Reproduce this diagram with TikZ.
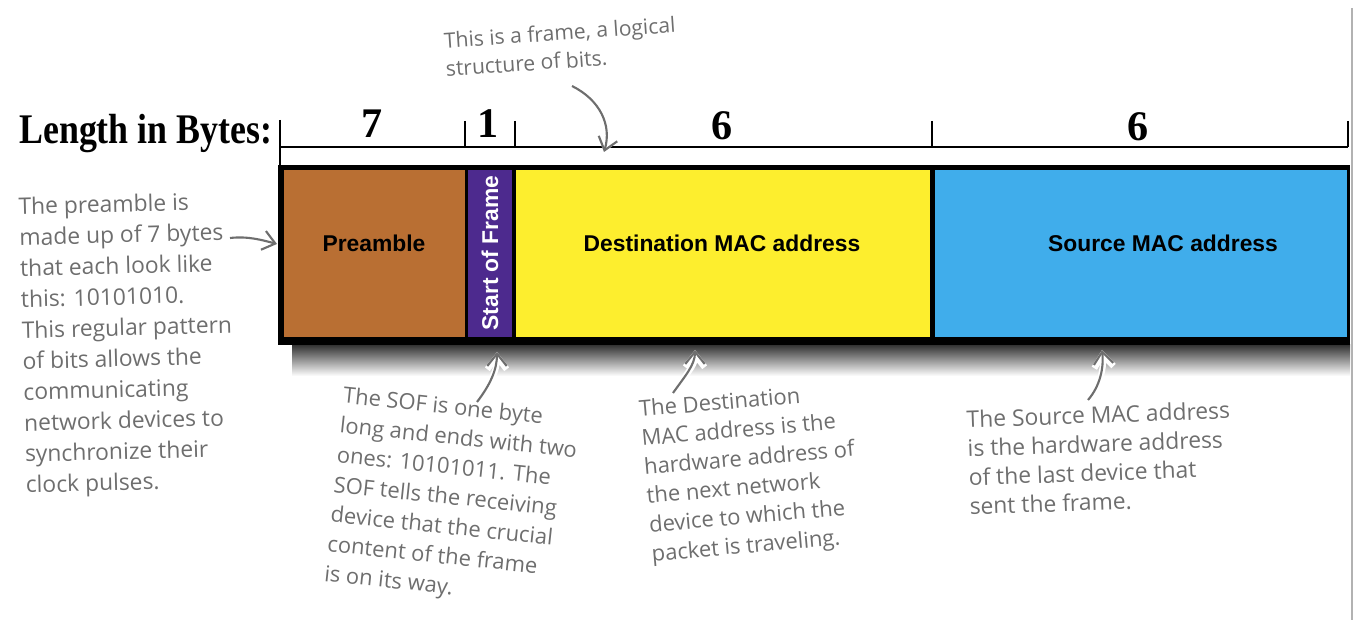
\documentclass[tikz,border=0pt]{standalone}
\usepackage{fontspec}
\setsansfont{Liberation Sans}
\newfontfamily\notefont{Open Sans}
\newfontfamily\titlefont{Liberation Serif}
\usetikzlibrary{arrows.meta}

\definecolor{preamblebrown}{HTML}{B96F33}
\definecolor{sofpurple}{HTML}{4D2A8E}
\definecolor{dstyellow}{HTML}{FDEE2E}
\definecolor{srcblue}{HTML}{40ADEB}
\definecolor{notegray}{HTML}{6E6E6E}

\begin{document}
\begin{tikzpicture}[x=0.02cm,y=-0.02cm]
    \tikzstyle{field}=[anchor=north west,inner sep=0pt,minimum height=3.34cm]
    \tikzstyle{fieldtext}=[font=\sffamily\bfseries\fontsize{13}{15}\selectfont]
    \tikzstyle{bytes}=[font=\titlefont\bfseries\fontsize{24}{26}\selectfont]
    \tikzstyle{note}=[text=notegray,anchor=north west,align=left,inner sep=0pt,
                      font=\notefont\fontsize{12.5}{16.5}\selectfont]
    \tikzstyle{notearrow}=[notegray,line width=1.2pt,-{Straight Barb[length=7pt,width=11pt]},
                      preaction={draw=white,line width=3.5pt,-{Straight Barb[length=7pt,width=11pt]}}]

    \useasboundingbox (0,0) rectangle (1362,641);
    \draw[black!30,line width=0.8pt] (1352,8) -- (1352,620);

    % length scale
    \node[bytes,xscale=0.85,anchor=west] (title) at (14,134) {Length in Bytes:};
    \draw[line width=1.5pt] (280,147) -- (1348,147);
    \draw[line width=1.5pt] (280,120) -- (280,165);
    \foreach \x in {465,515,932,1348}
        \draw[line width=1.5pt] (\x,121) -- (\x,147);
    \node[bytes] (len7) at (372,124) {7};
    \node[bytes] (len1) at (488,124) {1};
    \node[bytes] (len6a) at (722,126) {6};
    \node[bytes] (len6b) at (1138,127) {6};

    % frame
    \shade[top color=black!80,bottom color=white] (292,345) rectangle (1350,376);
    \fill[black] (278,165) rectangle (1350,345);
    \node[field,fill=preamblebrown,minimum width=3.62cm] (pre) at (284,170) {};
    \node[field,fill=sofpurple,minimum width=0.88cm] (sof) at (468,170) {};
    \node[field,fill=dstyellow,minimum width=8.28cm] (dst) at (516,170) {};
    \node[field,fill=srcblue,minimum width=8.24cm] (src) at (935,170) {};
    \node[fieldtext] (pretext) at (374,243) {Preamble};
    \node[fieldtext,text=white,rotate=90] (softext) at (490,253) {Start of Frame};
    \node[fieldtext] (dsttext) at (722,243) {Destination MAC address};
    \node[fieldtext] (srctext) at (1163,243) {Source MAC address};

    % notes
    \node[note,rotate=4,font=\notefont\fontsize{12}{16}\selectfont] (framenote) at (443,32)
        {This is a frame, a logical\\structure of bits.};
    \node[note,rotate=1.5,font=\notefont\fontsize{13}{17.6}\selectfont] (prenote) at (18,197)
        {The preamble is\\made up of 7 bytes\\that each look like\\this: 10101010.\\This regular pattern\\of bits allows the\\communicating\\network devices to\\synchronize their\\clock pulses.};
    \node[note,rotate=-6,font=\notefont\fontsize{12.5}{17}\selectfont] (sofnote) at (344,386)
        {The SOF is one byte\\long and ends with two\\ones: 10101011. The\\SOF tells the receiving\\device that the crucial\\content of the frame\\is on its way.};
    \node[note,rotate=5] (dstnote) at (638,400)
        {The Destination\\MAC address is the\\hardware address of\\the next network\\device to which the\\packet is traveling.};
    \node[note,rotate=2,font=\notefont\fontsize{13}{16.5}\selectfont] (srcnote) at (966,410)
        {The Source MAC address\\is the hardware address\\of the last device that\\sent the frame.};

    % arrows
    \coordinate (frametail) at (572,86);
    \coordinate (frametip) at (604,152);
    \coordinate (pretail) at (230,238);
    \coordinate (pretip) at (277,244);
    \coordinate (softail) at (477,402);
    \coordinate (softip) at (497,352);
    \coordinate (dsttail) at (673,393);
    \coordinate (dsttip) at (695,350);
    \coordinate (srctail) at (1088,400);
    \coordinate (srctip) at (1102,350);
    \draw[notearrow] (frametail) .. controls (600,100) and (612,125) .. (frametip);
    \draw[notearrow] (pretail) .. controls (248,236) and (262,240) .. (pretip);
    \draw[notearrow] (softail) .. controls (490,385) and (497,370) .. (softip);
    \draw[notearrow] (dsttail) .. controls (685,376) and (695,365) .. (dsttip);
    \draw[notearrow] (srctail) .. controls (1100,386) and (1104,368) .. (srctip);
\end{tikzpicture}
\end{document}
